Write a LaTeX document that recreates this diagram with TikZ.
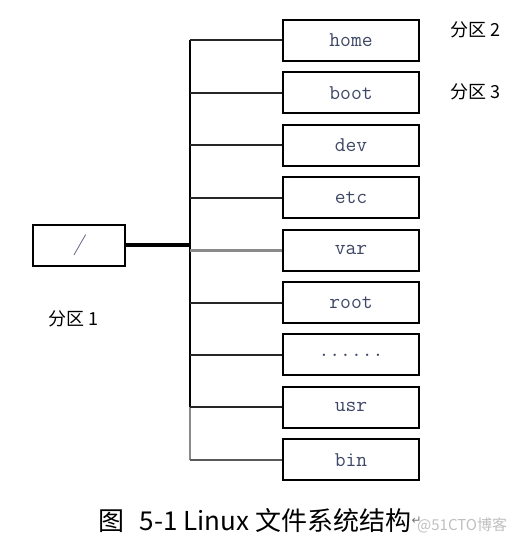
\documentclass[tikz,border=0pt]{standalone}
\usepackage{fontspec}
\usepackage{xcolor}
\usepackage{tikz}
\usetikzlibrary{positioning,calc}
\newfontfamily\cjk{Noto Sans CJK SC}
\newfontfamily\symfont{DejaVu Sans}
\definecolor{dirblue}{HTML}{3E4866}
\definecolor{linkgray}{HTML}{8A8A8A}

\begin{document}
\begin{tikzpicture}[
  x=1pt,y=-1pt,
  dir/.style={rectangle,draw,line width=2pt,minimum width=136pt,minimum height=41pt,inner sep=0pt,
    font=\ttfamily\fontsize{21}{22}\selectfont,text=dirblue},
  link/.style={line width=2pt,draw=black!85},
  faint/.style={line width=2.2pt,draw=linkgray},
  trunk/.style={line width=2.8pt},
  part/.style={font=\cjk\fontsize{18}{20}\selectfont,inner sep=0pt}
]
\useasboundingbox (0,0) rectangle (525,548);
% directory boxes
\node[dir] (home) at (351,40.5) {home};
\node[dir,below=9.4pt of home] (boot) {boot};
\node[dir,below=9.4pt of boot] (dev) {dev};
\node[dir,below=9.4pt of dev] (etc) {etc};
\node[dir,below=9.4pt of etc] (var) {var};
\node[dir,below=9.4pt of var] (rootdir) {root};
\node[dir,below=9.4pt of rootdir] (dots) {......};
\node[dir,below=9.4pt of dots] (usr) {usr};
\node[dir,below=9.4pt of usr] (bin) {bin};
% root of the tree
\node[dir,minimum width=92pt,font=\fontsize{21}{22}\selectfont\itshape] (slash) at (78.5,245) {/};
\coordinate (tr) at (190,0);
% partitions
\node[part,anchor=west] (p2) at (450,30) {分区 2};
\node[part,anchor=west] (p3) at (450,92) {分区 3};
\node[part,anchor=west] (p1) at (48,319) {分区 1};
% connectors
\draw[trunk] (home.west -| tr) -- (usr.west -| tr);
\draw[faint] (usr.west -| tr) -- (bin.west -| tr);
\draw[trunk,line width=3.4pt] (slash.east) -- (slash.east -| tr);
\draw[link] (home.west -| tr) -- (home.west);
\draw[link] (boot.west -| tr) -- (boot.west);
\draw[link] (dev.west -| tr) -- (dev.west);
\draw[link] (etc.west -| tr) -- (etc.west);
\draw[faint,line width=2.8pt] (var.west -| tr) -- (var.west);
\draw[link] (rootdir.west -| tr) -- (rootdir.west);
\draw[link] (dots.west -| tr) -- (dots.west);
\draw[link] (usr.west -| tr) -- (usr.west);
\draw[faint,draw=black!65] (bin.west -| tr) -- (bin.west);
% caption
\node[font=\cjk\fontsize{26}{28}\selectfont,anchor=west,inner sep=0pt] (cap) at (98,521)
  {图\hspace{0.6em}5-1 Linux 文件系统结构};
\node[font=\symfont\fontsize{12}{13}\selectfont,text=black!55,anchor=west,inner sep=0pt,right=0pt of cap] (ret) {↵};
\node[font=\cjk\fontsize{15}{16}\selectfont,text=black!25,anchor=west,inner sep=0pt] (mark) at (417,525) {@51CTO博客};
\end{tikzpicture}
\end{document}
